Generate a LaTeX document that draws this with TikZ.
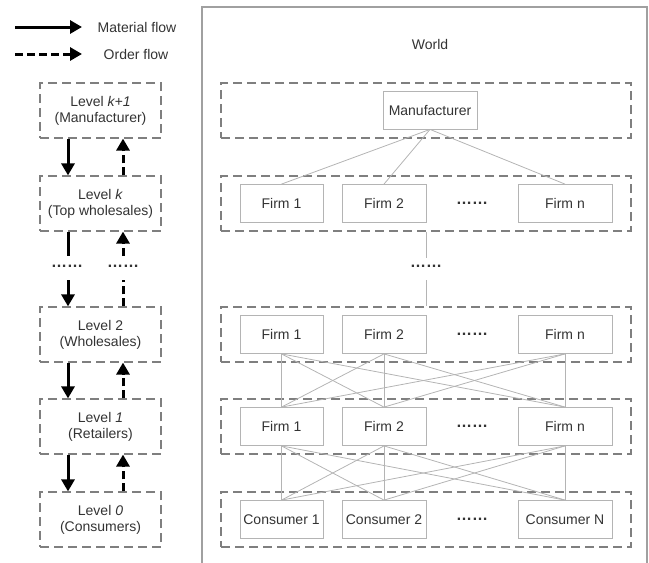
\documentclass[tikz,border=0pt]{standalone}
\usepackage{fontspec}
\setmainfont{Liberation Sans}
\usetikzlibrary{arrows.meta}
\definecolor{textgray}{HTML}{333333}
\definecolor{bandgray}{HTML}{7F7F7F}
\definecolor{boxgray}{HTML}{B4B4B4}
\definecolor{framegray}{HTML}{A0A0A0}
\begin{document}
\begin{tikzpicture}[x=1pt, y=-1pt,
        font=\fontsize{14}{16}\selectfont, text=textgray,
        bandstyle/.style={draw=bandgray, line width=1.2pt, dash pattern=on 9pt off 5pt,
            minimum width=410pt, minimum height=55pt, inner sep=0pt},
        levelstyle/.style={draw=bandgray, line width=1.2pt, dash pattern=on 9pt off 5pt,
            minimum width=121pt, minimum height=55pt, inner sep=0pt, align=center},
        firmstyle/.style={draw=boxgray, line width=0.8pt, minimum height=38pt, inner sep=0pt},
        dotstyle/.style={font=\fontsize{16}{16}\selectfont\bfseries, inner sep=0pt},
        linkstyle/.style={draw=boxgray, line width=0.8pt},
        materialstyle/.style={line width=3pt, -{Triangle[length=12pt,width=13pt]}},
        orderstyle/.style={line width=3pt, dash pattern=on 8pt off 4pt, -{Triangle[length=12pt,width=13pt]}}]
    \useasboundingbox (0,0) rectangle (649,563);
    % World frame
    \draw[framegray, line width=1.5pt] (202,563) -- (202,7) -- (647,7) -- (647,563);
    \node (world) at (430,44) {World};

    % Legend
    \coordinate (mat0) at (15,27);
    \coordinate (mat1) at (82,27);
    \coordinate (ord0) at (15,54);
    \coordinate (ord1) at (82,54);
    \draw[materialstyle] (mat0) -- (mat1);
    \draw[orderstyle] (ord0) -- (ord1);
    \node (matlabel) at (137,27) {Material flow};
    \node (ordlabel) at (136,54) {Order flow};

    % Levels on the left
    \foreach \lv/\y/\txt in {k1/110.5/{Level \textit{k+1}\\(Manufacturer)},
            k/203.5/{Level \textit{k}\\(Top wholesales)},
            2/334.5/{Level 2\\(Wholesales)},
            1/426.5/{Level \textit{1}\\(Retailers)},
            0/519.5/{Level \textit{0}\\(Consumers)}}{
        \node[levelstyle] (lv\lv) at (100.5,\y) {\txt};
    }
    \foreach \up/\dn in {k1/k, 2/1, 1/0}{
        \draw[materialstyle] ([xshift=-32.5pt]lv\up.south) -- ([xshift=-32.5pt]lv\dn.north);
        \draw[orderstyle] ([xshift=22.5pt]lv\dn.north) -- ([xshift=22.5pt]lv\up.south);
    }
    % gap between level k and level 2
    \node[dotstyle] (ldotm) at (67,266) {……};
    \node[dotstyle] (ldoto) at (123,266) {……};
    \coordinate (mtop) at (68,256);
    \coordinate (mbot) at (68,280);
    \coordinate (otop) at (123,256);
    \coordinate (obot) at (123,280);
    \draw[line width=3pt] (lvk.south -| mtop) -- (mtop);
    \draw[materialstyle] (mbot) -- (lv2.north -| mbot);
    \draw[orderstyle] (otop) -- (lvk.south -| otop);
    \draw[line width=3pt, dash pattern=on 8pt off 4pt] (lv2.north -| obot) -- (obot);

    % World rows
    \node[bandstyle] (bandk1) at (426,110.5) {};
    \node[firmstyle, minimum width=94pt] (maker) at (430,110) {Manufacturer};
    \foreach \lv/\y in {k/203.5, 2/334.5, 1/426.5}{
        \node[bandstyle] (band\lv) at (426,\y) {};
        \foreach \c/\x/\w in {1/281.5/83, 2/384/84, n/565/94}
            \node[firmstyle, minimum width=\w pt] (f\lv-\c) at (\x,\y) {Firm \c};
        \node[dotstyle] (dots\lv) at (472,\y) {……};
    }
    \node[bandstyle] (band0) at (426,519.5) {};
    \foreach \c/\x/\w/\name in {1/281.5/83/1, 2/384/84/2, n/565/94/N}
        \node[firmstyle, minimum width=\w pt] (f0-\c) at (\x,519.5) {Consumer \name};
    \node[dotstyle] (dots0) at (472,519.5) {……};

    % Connections
    \foreach \j in {1,2,n}
        \draw[linkstyle] (maker.south) -- (fk-\j.north);
    \foreach \a/\b in {2/1, 1/0}
        \foreach \i in {1,2,n}
            \foreach \j in {1,2,n}
                \draw[linkstyle] (f\a-\i.south) -- (f\b-\j.north);
    % gap between top firms and level 2
    \node[dotstyle] (rdots) at (426,266) {……};
    \coordinate (vtop) at (426,258);
    \coordinate (vbot) at (426,280);
    \draw[linkstyle] (bandk.south) -- (vtop);
    \draw[linkstyle] (vbot) -- (band2.north);
\end{tikzpicture}
\end{document}
